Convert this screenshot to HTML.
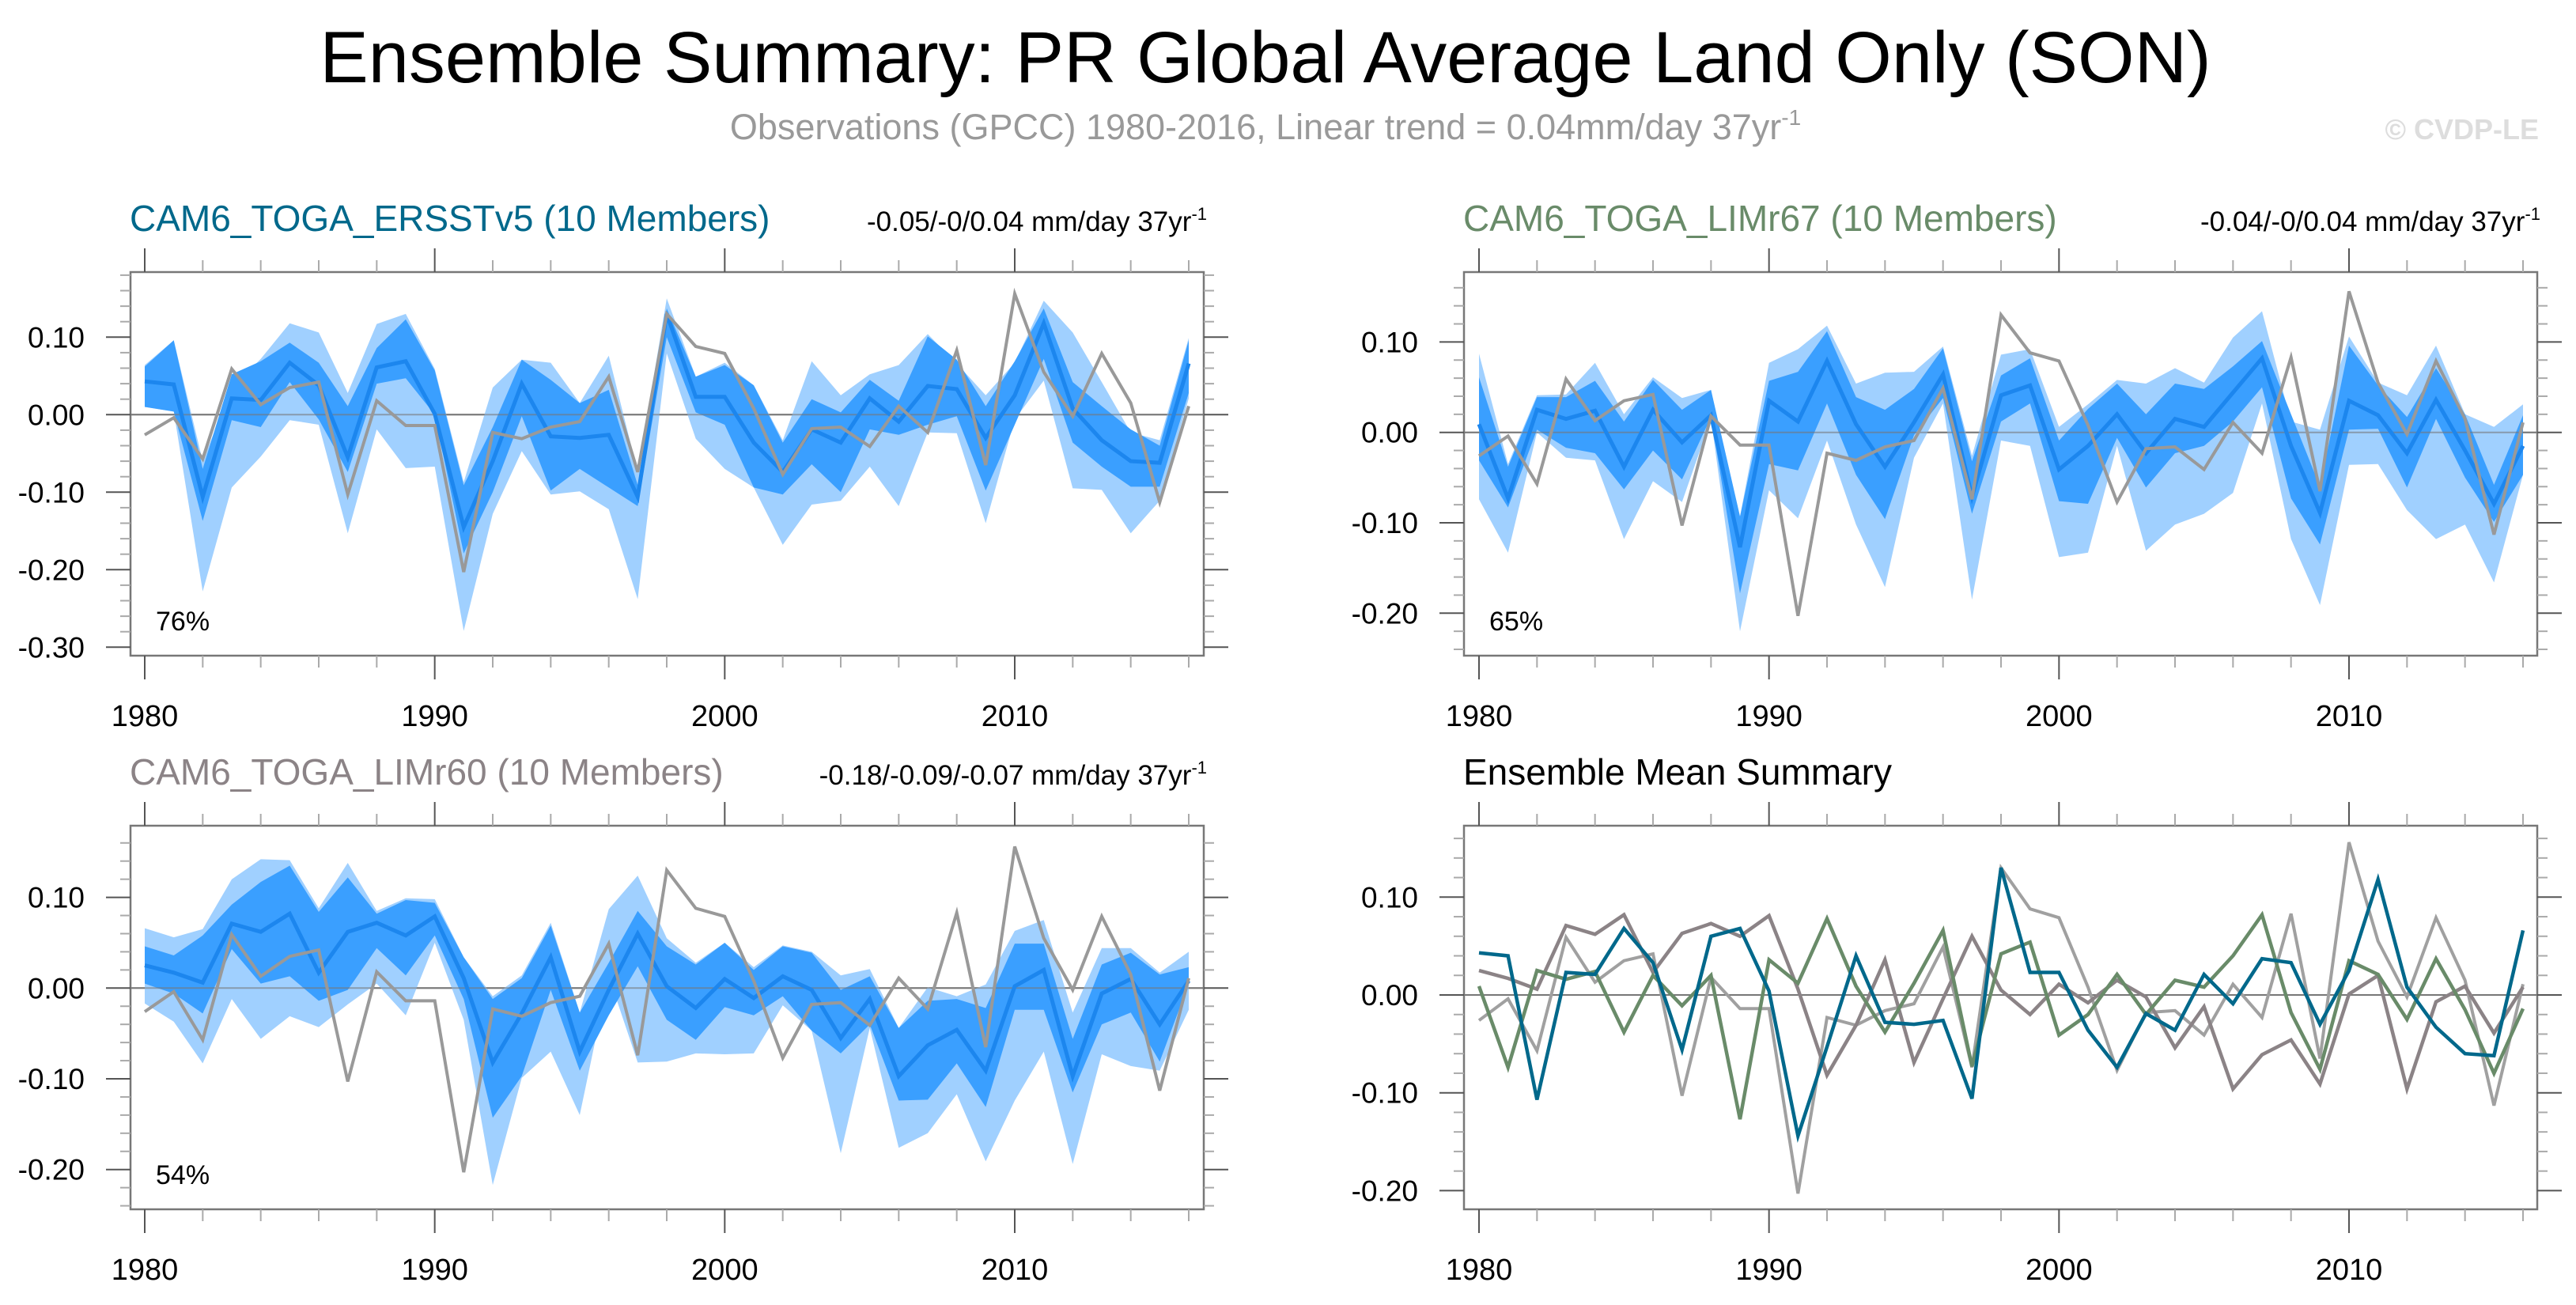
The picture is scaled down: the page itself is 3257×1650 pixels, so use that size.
<!DOCTYPE html>
<html><head><meta charset="utf-8"><style>
html,body{margin:0;padding:0;background:#fff;}
svg{display:block;font-family:"Liberation Sans",sans-serif;}
</style></head><body>
<svg id="chart" width="3257" height="1650" viewBox="0 0 3257 1650" xmlns="http://www.w3.org/2000/svg">
<rect width="3257" height="1650" fill="#fff"/>
<text x="1600" y="104" font-size="92" text-anchor="middle" fill="#000">Ensemble Summary: PR Global Average Land Only (SON)</text>
<text x="1600" y="176" font-size="45" text-anchor="middle" fill="#999">Observations (GPCC) 1980-2016, Linear trend = 0.04mm/day 37yr<tspan dy="-18" font-size="28">-1</tspan></text>
<text x="3210" y="176" font-size="36" font-weight="bold" text-anchor="end" fill="#ddd">© CVDP-LE</text>
</svg>
<script>
const years = [];
for (let y = 1980; y <= 2016; y++) years.push(y);
const obs = [-0.026,-0.004,-0.057,0.059,0.013,0.035,0.042,-0.103,0.018,-0.014,-0.014,-0.203,-0.023,-0.031,-0.016,-0.009,0.049,-0.074,0.13,0.088,0.079,0.008,-0.077,-0.018,-0.016,-0.041,0.011,-0.023,0.083,-0.065,0.156,0.055,-0.002,0.079,0.015,-0.113,0.011];
// Panel 1: ERSSTv5
const ersMean = [0.043,0.039,-0.106,0.021,0.019,0.067,0.038,-0.055,0.061,0.069,0.001,-0.145,-0.06,0.04,-0.028,-0.03,-0.026,-0.106,0.13,0.023,0.023,-0.036,-0.074,-0.019,-0.036,0.021,-0.009,0.037,0.033,-0.03,0.025,0.118,0.008,-0.033,-0.06,-0.062,0.066];
const ersDarkHi = [0.062,0.096,-0.07,0.052,0.069,0.093,0.067,0.011,0.086,0.123,0.057,-0.091,-0.016,0.071,0.045,0.015,0.032,-0.091,0.137,0.049,0.064,0.038,-0.036,0.02,0.003,0.045,0.018,0.101,0.071,0.011,0.069,0.137,0.042,0.011,-0.019,-0.04,0.096];
const ersDarkLo = [0.01,0.004,-0.137,-0.007,-0.016,0.042,-0.006,-0.074,0.04,0.047,0,-0.179,-0.1,-0.002,-0.098,-0.07,-0.094,-0.118,0.1,0.003,-0.013,-0.094,-0.103,-0.064,-0.1,-0.019,-0.026,-0.013,-0.002,-0.098,-0.013,0.072,-0.036,-0.067,-0.093,-0.093,0.028];
const ersLightHi = [0.064,0.096,-0.06,0.035,0.072,0.118,0.106,0.028,0.117,0.13,0.059,-0.087,0.035,0.071,0.067,0.015,0.076,-0.074,0.15,0.049,0.067,0.038,-0.033,0.069,0.025,0.052,0.064,0.104,0.066,0.025,0.067,0.147,0.106,0.042,-0.023,-0.033,0.099];
const ersLightLo = [0.01,0.004,-0.228,-0.094,-0.054,-0.007,-0.013,-0.153,-0.019,-0.069,-0.067,-0.279,-0.128,-0.047,-0.103,-0.099,-0.122,-0.238,0.079,-0.031,-0.07,-0.094,-0.168,-0.116,-0.111,-0.067,-0.118,-0.023,-0.024,-0.14,-0.006,0.044,-0.095,-0.097,-0.153,-0.111,0.021];
// Panel 2: LIMr67
const l67Mean = [0.009,-0.073,0.025,0.015,0.024,-0.038,0.025,-0.011,0.019,-0.127,0.035,0.012,0.079,0.009,-0.038,0.011,0.064,-0.071,0.041,0.052,-0.041,-0.015,0.02,-0.023,0.015,0.006,0.044,0.082,-0.015,-0.089,0.035,0.019,-0.023,0.036,-0.02,-0.079,-0.015];
const l67DarkHi = [0.061,-0.038,0.039,0.039,0.057,0.012,0.058,0.025,0.047,-0.093,0.057,0.067,0.112,0.039,0.025,0.048,0.093,-0.032,0.063,0.082,-0.009,0.026,0.054,0.02,0.054,0.048,0.073,0.101,0.02,-0.06,0.096,0.052,0.017,0.071,0.02,-0.058,0.019];
const l67DarkLo = [-0.031,-0.083,0.003,-0.017,-0.023,-0.063,-0.02,-0.052,0.017,-0.178,-0.035,-0.042,0.032,-0.047,-0.096,-0.003,0.038,-0.09,0.012,0.032,-0.076,-0.079,-0.006,-0.061,-0.023,-0.015,0.012,0.05,-0.073,-0.124,0.003,0.004,-0.061,0.015,-0.05,-0.099,-0.047];
const l67LightHi = [0.087,-0.035,0.041,0.042,0.077,0.02,0.061,0.038,0.047,-0.093,0.077,0.092,0.118,0.054,0.066,0.067,0.095,-0.026,0.086,0.092,0.006,0.031,0.058,0.054,0.071,0.055,0.105,0.134,0.012,0.003,0.106,0.055,0.041,0.096,0.02,0.006,0.031];
const l67LightLo = [-0.074,-0.133,0,-0.028,-0.031,-0.118,-0.054,-0.077,0.015,-0.22,-0.064,-0.095,-0.009,-0.102,-0.171,-0.028,0.032,-0.185,-0.009,-0.015,-0.138,-0.133,-0.015,-0.131,-0.102,-0.09,-0.067,0.032,-0.118,-0.191,-0.036,-0.035,-0.086,-0.118,-0.102,-0.166,-0.047];
// Panel 3: LIMr60
const l60Mean = [0.025,0.017,0.006,0.071,0.062,0.082,0.017,0.062,0.072,0.058,0.079,0.011,-0.082,-0.028,0.034,-0.07,-0.002,0.06,0.002,-0.022,0.01,-0.011,0.013,-0.002,-0.055,-0.012,-0.097,-0.063,-0.046,-0.091,0.002,0.02,-0.097,-0.006,0.01,-0.04,0.008];
const l60DarkHi = [0.046,0.036,0.058,0.092,0.117,0.135,0.084,0.122,0.082,0.097,0.094,0.034,-0.012,0.011,0.069,-0.027,0.028,0.085,0.046,0.026,0.05,0.02,0.046,0.039,-0.002,0.013,-0.044,-0.014,-0.012,-0.022,0.049,0.049,-0.056,0.026,0.039,0.015,0.023];
const l60DarkLo = [0.005,-0.006,-0.028,0.043,0.005,0.013,-0.014,-0.002,0.044,0.014,0.058,-0.012,-0.143,-0.097,-0.002,-0.091,-0.03,0.024,-0.035,-0.057,-0.021,-0.03,-0.009,-0.047,-0.072,-0.04,-0.124,-0.123,-0.083,-0.131,-0.024,-0.024,-0.115,-0.04,-0.027,-0.081,0.005];
const l60LightHi = [0.066,0.056,0.065,0.12,0.142,0.141,0.088,0.138,0.085,0.099,0.098,0.034,-0.009,0.014,0.072,-0.027,0.087,0.124,0.055,0.028,0.05,0.023,0.047,0.04,0.014,0.021,-0.044,0.001,-0.009,0.004,0.063,0.075,-0.027,0.044,0.044,0.017,0.04];
const l60LightLo = [-0.017,-0.037,-0.083,-0.012,-0.056,-0.031,-0.043,-0.018,0.005,-0.03,0.05,-0.035,-0.217,-0.099,-0.07,-0.14,0.013,-0.082,-0.081,-0.072,-0.073,-0.072,-0.019,-0.047,-0.182,-0.044,-0.176,-0.16,-0.117,-0.191,-0.124,-0.07,-0.194,-0.073,-0.086,-0.091,-0.024];
// Panel 4: ensemble means
const sumErs = [0.043,0.04,-0.107,0.023,0.021,0.068,0.033,-0.056,0.06,0.068,0.004,-0.144,-0.053,0.04,-0.028,-0.03,-0.026,-0.106,0.13,0.023,0.023,-0.036,-0.074,-0.019,-0.036,0.021,-0.009,0.037,0.033,-0.03,0.025,0.118,0.008,-0.033,-0.06,-0.062,0.066];
const sumL67 = [0.009,-0.074,0.025,0.016,0.024,-0.038,0.02,-0.011,0.02,-0.127,0.036,0.012,0.078,0.009,-0.038,0.012,0.066,-0.073,0.042,0.054,-0.041,-0.02,0.021,-0.02,0.015,0.008,0.04,0.082,-0.018,-0.076,0.035,0.021,-0.025,0.037,-0.015,-0.08,-0.014];
const sumL60 = [0.025,0.017,0.006,0.071,0.062,0.082,0.023,0.063,0.073,0.06,0.081,0.006,-0.082,-0.031,0.036,-0.069,-0.004,0.06,0.005,-0.02,0.011,-0.008,0.015,-0.002,-0.054,-0.012,-0.096,-0.061,-0.046,-0.091,0.001,0.02,-0.096,-0.007,0.009,-0.039,0.008];
const ticks1 = ["0.10","0.00","-0.10","-0.20","-0.30"];
const tickVals1 = [0.1,0,-0.1,-0.2,-0.3];
const ticks2 = ["0.10","0.00","-0.10","-0.20"];
const tickVals2 = [0.1,0,-0.1,-0.2];
const xTickYears = [1980,1990,2000,2010];

const NS = "http://www.w3.org/2000/svg";
const svg = document.getElementById("chart");
function mk(tag, attrs, parent) {
  const e = document.createElementNS(NS, tag);
  for (const k in attrs) e.setAttribute(k, attrs[k]);
  (parent || svg).appendChild(e);
  return e;
}
const C_LIGHT = "#a0d0ff", C_DARK = "#3a9fff", C_MEAN = "#1c86ee", C_OBS = "#999999";

function panel(p) {
  const g = mk("g", {});
  
  
  const xs = yr => p.x0 + (yr - 1980) * (p.x1 - p.x0) / 36;
  const ys = v => p.zeroY - v * p.unit * 10;
  function band(hi, lo, color, nm) {
    let d = "";
    years.forEach((yr, i) => { d += (i ? "L" : "M") + xs(yr).toFixed(1) + "," + ys(hi[i]).toFixed(1); });
    for (let i = years.length - 1; i >= 0; i--) d += "L" + xs(years[i]).toFixed(1) + "," + ys(lo[i]).toFixed(1);
    const e = mk("path", { d: d + "Z", fill: color, stroke: "none" }, g);
    
    
  }
  function line(vals, color, w, nm) {
    const pts = years.map((yr, i) => xs(yr).toFixed(1) + "," + ys(vals[i]).toFixed(1)).join(" ");
    const e = mk("polyline", { points: pts, fill: "none", stroke: color, "stroke-width": w, "stroke-linejoin": "miter", "stroke-miterlimit": 4 }, g);
    
    
  }
  const zl = mk("line", { x1: p.bx0, x2: p.bx1, y1: ys(0), y2: ys(0), stroke: "#777", "stroke-width": 2 }, g);
  
  
  if (p.bands) {
    band(p.bands[0], p.bands[1], C_LIGHT, "spread-band-outer");
    band(p.bands[2], p.bands[3], C_DARK, "spread-band-inner");
    const zl2 = mk("line", { x1: p.bx0, x2: p.bx1, y1: ys(0), y2: ys(0), stroke: "#777", "stroke-width": 2, opacity: 0.6 }, g);
    
    
    line(p.mean, C_MEAN, 5, "ensemble-mean-line");
    line(obs, C_OBS, 4, "observations-line");
  } else {
    line(obs, "#a0a0a0", 4, "observations-line");
    line(sumL60, "#8b8386", 4.5, "limr60-mean-line");
    line(sumL67, "#698b69", 4.5, "limr67-mean-line");
    line(sumErs, "#00688b", 4.5, "ersst-mean-line");
  }
  const fr = mk("rect", { x: p.bx0, y: p.by0, width: p.bx1 - p.bx0, height: p.by1 - p.by0, fill: "none", stroke: "#777", "stroke-width": 2.5 }, g);
  
  
  const vTop = (p.zeroY - p.by0) / (p.unit * 10), vBot = (p.zeroY - p.by1) / (p.unit * 10);
  for (let k = Math.ceil(vBot * 50); k <= Math.floor(vTop * 50); k++) {
    const v = k / 50, y = ys(v), major = (k % 5 === 0);
    const len = major ? 31 : 13;
    mk("line", { x1: p.bx0 - len, x2: p.bx0, y1: y, y2: y, stroke: major ? "#555" : "#aaa", "stroke-width": 2 }, g);
    mk("line", { x1: p.bx1, x2: p.bx1 + len, y1: y, y2: y, stroke: major ? "#555" : "#aaa", "stroke-width": 2 }, g);
  }
  p.tickVals.forEach((v, i) => {
    const t = mk("text", { x: p.bx0 - 58, y: ys(v) + 13, "font-size": 37, "text-anchor": "end", fill: "#000" }, g);
    
    
    t.textContent = p.tickLabels[i];
  });
  for (let yr = 1980; yr <= 2016; yr += 2) {
    const x = xs(yr), major = (yr % 10 === 0);
    const len = major ? 30 : 15;
    mk("line", { x1: x, x2: x, y1: p.by1, y2: p.by1 + len, stroke: major ? "#555" : "#aaa", "stroke-width": 2 }, g);
    mk("line", { x1: x, x2: x, y1: p.by0, y2: p.by0 - len, stroke: major ? "#555" : "#aaa", "stroke-width": 2 }, g);
  }
  xTickYears.forEach(yr => {
    const t = mk("text", { x: xs(yr), y: p.by1 + 89, "font-size": 38, "text-anchor": "middle", fill: "#000" }, g);
    
    
    t.textContent = yr;
  });
  const tt = mk("text", { x: p.bx0 - 1, y: p.by0 - 52, "font-size": 46, fill: p.titleColor }, g);
  
  
  tt.textContent = p.title;
  if (p.trend) {
    const tr = mk("text", { x: p.bx1 + 4, y: p.by0 - 52, "font-size": 35, "text-anchor": "end", fill: "#000" }, g);
    
    
    tr.textContent = p.trend;
    const sup = mk("tspan", { dy: -14, "font-size": 22 }, tr);
    sup.textContent = "-1";
  }
  if (p.pct) {
    const pc = mk("text", { x: p.bx0 + 32, y: p.by1 - 32, "font-size": 34, fill: "#000" }, g);
    
    
    pc.textContent = p.pct;
  }
}
const L = { bx0: 165, bx1: 1522, x0: 183, x1: 1503 };
const R = { bx0: 1851, bx1: 3208, x0: 1870, x1: 3190 };
panel(Object.assign({}, L, { name: "ersstv5-panel", by0: 344, by1: 829, zeroY: 524.3, unit: 98, tickVals: tickVals1, tickLabels: ticks1,
  bands: [ersLightHi, ersLightLo, ersDarkHi, ersDarkLo], mean: ersMean, title: "CAM6_TOGA_ERSSTv5 (10 Members)", titleColor: "#00688b",
  trend: "-0.05/-0/0.04 mm/day 37yr", pct: "76%" }));
panel(Object.assign({}, R, { name: "limr67-panel", by0: 344, by1: 829, zeroY: 546.7, unit: 114.3, tickVals: tickVals2, tickLabels: ticks2,
  bands: [l67LightHi, l67LightLo, l67DarkHi, l67DarkLo], mean: l67Mean, title: "CAM6_TOGA_LIMr67 (10 Members)", titleColor: "#698b69",
  trend: "-0.04/-0/0.04 mm/day 37yr", pct: "65%" }));
panel(Object.assign({}, L, { name: "limr60-panel", by0: 1044, by1: 1529, zeroY: 1249.3, unit: 114.7, tickVals: tickVals2, tickLabels: ticks2,
  bands: [l60LightHi, l60LightLo, l60DarkHi, l60DarkLo], mean: l60Mean, title: "CAM6_TOGA_LIMr60 (10 Members)", titleColor: "#8b8386",
  trend: "-0.18/-0.09/-0.07 mm/day 37yr", pct: "54%" }));
panel(Object.assign({}, R, { name: "ensemble-mean-summary-panel", by0: 1044, by1: 1529, zeroY: 1258, unit: 123.7, tickVals: tickVals2, tickLabels: ticks2,
  bands: null, title: "Ensemble Mean Summary", titleColor: "#000" }));
</script>
</body></html>
